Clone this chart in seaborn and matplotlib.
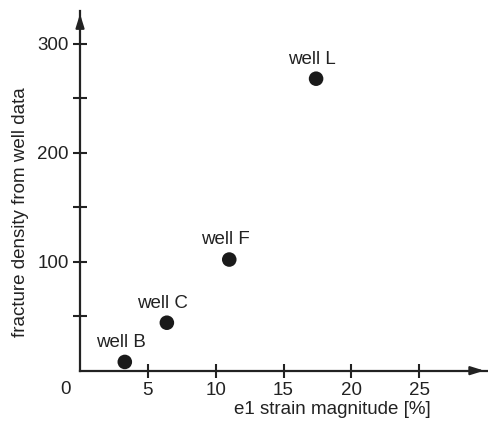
import matplotlib
matplotlib.use("Agg")
import matplotlib.pyplot as plt
import seaborn as sns
import pandas as pd

wells = ["well B", "well C", "well F", "well L"]
strain = [3.3, 6.4, 11.0, 17.4]
density = [8, 44, 102, 268]

df = pd.DataFrame({"well": wells, "strain": strain, "density": density})

sns.set_style("white")
plt.rcParams["font.family"] = ["Liberation Sans", "DejaVu Sans"]

fig = plt.figure(figsize=(4.88, 4.29), dpi=100)
ax = fig.add_axes([0.164, 0.136, 0.834, 0.838])

sns.scatterplot(data=df, x="strain", y="density", ax=ax, s=110,
                color="#1a1a1a", edgecolor="none", zorder=3, clip_on=False)

for w, x, y in zip(wells, strain, density):
    ax.annotate(w, (x, y), xytext=(-3, 8), textcoords="offset points",
                ha="center", va="bottom", fontsize=13.5, color="#222222")

ax.set_xlim(0, 30)
ax.set_ylim(0, 330)
ax.set_xticks([5, 10, 15, 20, 25])
ax.set_yticks([50, 100, 150, 200, 250, 300])
ax.set_yticklabels(["", "100", "", "200", "", "300"])
ax.tick_params(axis="both", direction="inout", length=10, width=1.5,
               labelsize=13.5, labelcolor="#222222", color="#222222", pad=3,
               bottom=True, left=True)

for side in ["top", "right"]:
    ax.spines[side].set_visible(False)
for side in ["left", "bottom"]:
    ax.spines[side].set_linewidth(1.6)
    ax.spines[side].set_color("#222222")

# arrow heads at the axis ends
ax.annotate("", xy=(1.0, 0), xytext=(0.96, 0), xycoords="axes fraction",
            arrowprops=dict(arrowstyle="-|>,head_length=0.8,head_width=0.25",
                            color="#222222", lw=1.6), annotation_clip=False)
ax.annotate("", xy=(0, 1.0), xytext=(0, 0.96), xycoords="axes fraction",
            arrowprops=dict(arrowstyle="-|>,head_length=0.8,head_width=0.25",
                            color="#222222", lw=1.6), annotation_clip=False)

ax.text(-0.035, -0.03, "0", transform=ax.transAxes, ha="center", va="top",
        fontsize=13.5, color="#222222")

ax.set_xlabel("e1 strain magnitude [%]", fontsize=13.5, color="#222222")
ax.set_ylabel("fracture density from well data", fontsize=13.5, color="#222222")
ax.xaxis.set_label_coords(0.62, -0.085)
ax.yaxis.set_label_coords(-0.125, 0.44)

fig.savefig("out.png", dpi=100)
